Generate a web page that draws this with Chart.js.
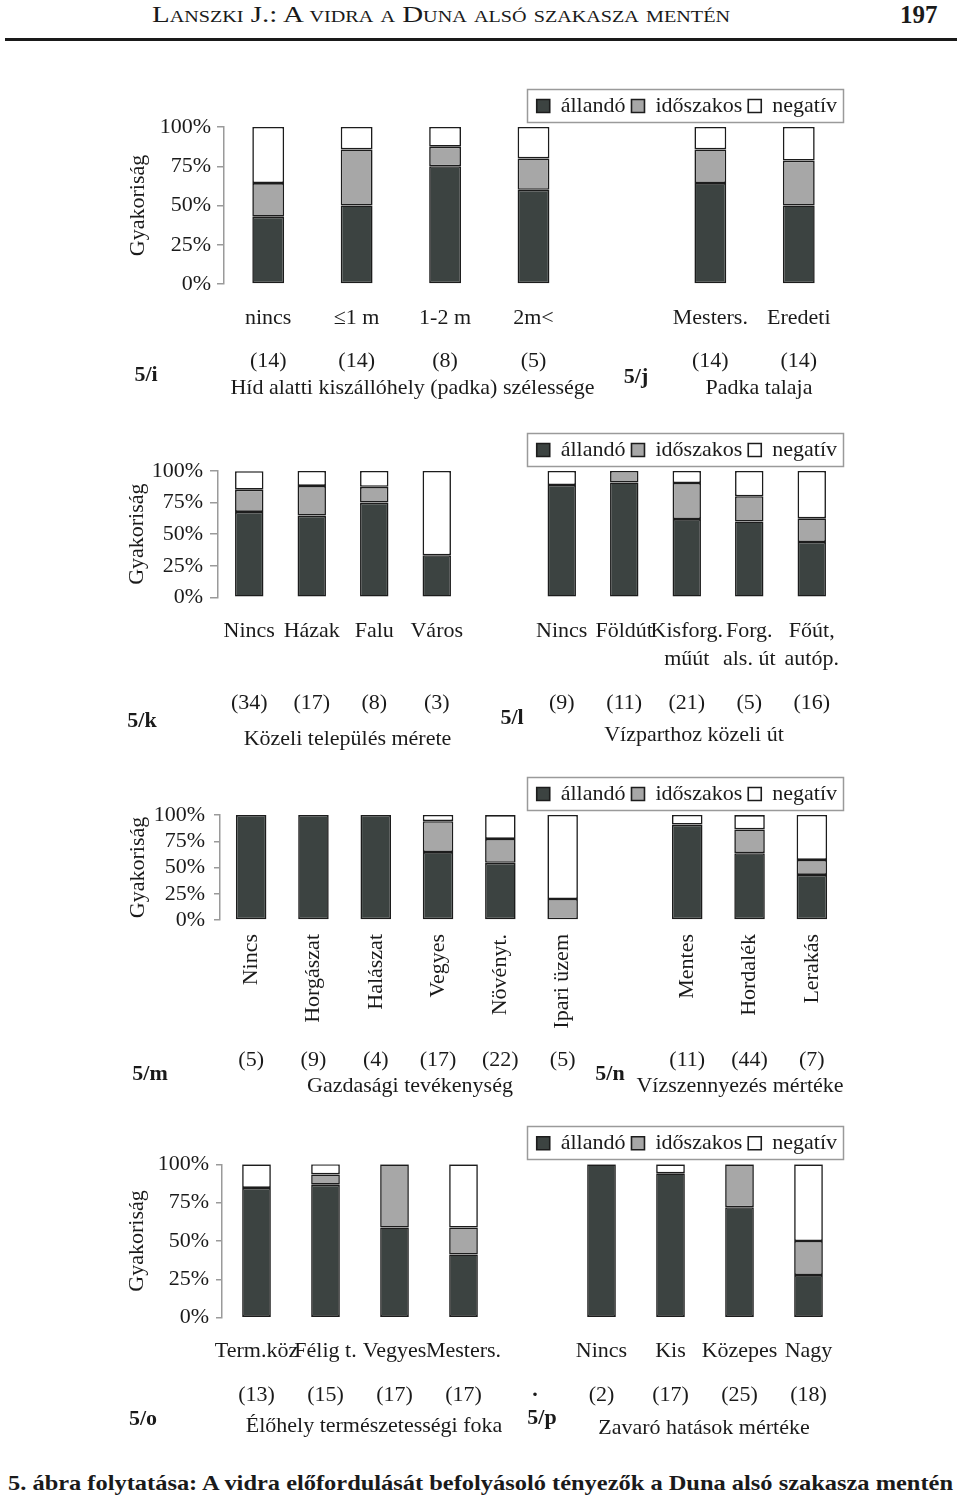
<!DOCTYPE html>
<html><head><meta charset="utf-8">
<script src="https://cdn.jsdelivr.net/npm/chart.js@4/dist/chart.umd.min.js"></script>
<style>
html,body{margin:0;padding:0;background:#fff;}
body{width:960px;height:1502px;position:relative;overflow:hidden;font-family:'Liberation Serif','Times New Roman',serif;color:#1a1a1a;}
canvas{position:absolute;left:0;}
#hdr{position:absolute;left:152px;top:1px;font-size:23px;font-variant:small-caps;line-height:28px;white-space:nowrap;transform-origin:0 0;}
#pg{position:absolute;left:900px;top:1px;font-size:25px;font-weight:bold;line-height:28px;}
#rule{position:absolute;left:5px;top:38px;width:952px;height:3px;background:#1a1a1a;}
#cap{position:absolute;left:8px;top:1470px;font-size:22px;font-weight:bold;line-height:26px;white-space:nowrap;transform-origin:0 0;}
</style></head><body>
<div id="hdr">Lanszki J.: A vidra a Duna alsó szakasza mentén</div>
<div id="pg">197</div>
<div id="rule"></div>
<canvas id="c1" width="960" height="325" style="top:80px"></canvas>
<canvas id="c2" width="960" height="335" style="top:425px"></canvas>
<canvas id="c3" width="960" height="335" style="top:770px"></canvas>
<canvas id="c4" width="960" height="330" style="top:1115px"></canvas>
<div id="cap">5. ábra folytatása: A vidra előfordulását befolyásoló tényezők a Duna alsó szakasza mentén</div>
<script>
// ---- DATA ----
const seriesNames = ['állandó', 'időszakos', 'negatív'];
const yTicks = [0, 25, 50, 75, 100];

const cats1 = ['nincs', '≤1 m', '1-2 m', '2m<', '', 'Mesters.', 'Eredeti'];
const allando1 = [42.9, 50.0, 75.0, 60.0, null, 64.3, 50.0];
const idoszakos1 = [21.4, 35.7, 12.5, 20.0, null, 21.4, 28.6];
const negativ1 = [35.7, 14.3, 12.5, 20.0, null, 14.3, 21.4];
const counts1 = ['(14)', '(14)', '(8)', '(5)', '', '(14)', '(14)'];

const cats2 = ['Nincs', 'Házak', 'Falu', 'Város', '', 'Nincs', 'Földút', ['Kisforg.', 'műút'], ['Forg.', 'als. út'], ['Főút,', 'autóp.']];
const allando2 = [67.6, 64.7, 75.0, 33.3, null, 88.9, 90.9, 61.9, 60.0, 43.8];
const idoszakos2 = [17.6, 23.5, 12.5, 0, null, 0, 9.1, 28.6, 20.0, 18.7];
const negativ2 = [14.7, 11.8, 12.5, 66.7, null, 11.1, 0, 9.5, 20.0, 37.5];
const counts2 = ['(34)', '(17)', '(8)', '(3)', '', '(9)', '(11)', '(21)', '(5)', '(16)'];

const cats3 = ['Nincs', 'Horgászat', 'Halászat', 'Vegyes', 'Növényt.', 'Ipari üzem', '', 'Mentes', 'Hordalék', 'Lerakás'];
const allando3 = [100, 100, 100, 64.7, 54.5, 0, null, 90.9, 63.6, 42.9];
const idoszakos3 = [0, 0, 0, 29.4, 22.7, 20.0, null, 0, 22.7, 14.3];
const negativ3 = [0, 0, 0, 5.9, 22.7, 80.0, null, 9.1, 13.6, 42.9];
const counts3 = ['(5)', '(9)', '(4)', '(17)', '(22)', '(5)', '', '(11)', '(44)', '(7)'];

const cats4 = ['Term.köz', 'Félig t.', 'Vegyes', 'Mesters.', '', 'Nincs', 'Kis', 'Közepes', 'Nagy'];
const allando4 = [84.6, 86.7, 58.8, 41.2, null, 100, 94.1, 72.0, 27.8];
const idoszakos4 = [0, 6.7, 41.2, 17.6, null, 0, 0, 28.0, 22.2];
const negativ4 = [15.4, 6.7, 0, 41.2, null, 0, 5.9, 0, 50.0];
const counts4 = ['(13)', '(15)', '(17)', '(17)', '', '(2)', '(17)', '(25)', '(18)'];

const subtitles1 = ['Híd alatti kiszállóhely (padka) szélessége', 'Padka talaja'];
const subtitles2 = ['Közeli település mérete', 'Vízparthoz közeli út'];
const subtitles3 = ['Gazdasági tevékenység', 'Vízszennyezés mértéke'];
const subtitles4 = ['Élőhely természetességi foka', 'Zavaró hatások mértéke'];
const panelLabels1 = ['5/i', '5/j'];
const panelLabels2 = ['5/k', '5/l'];
const panelLabels3 = ['5/m', '5/n'];
const panelLabels4 = ['5/o', '5/p'];

// ---- STYLE ----
const FONT = "'Liberation Serif', 'Times New Roman', serif";
const TXT = '#1a1a1a';
const COLS = ['#3c4341', '#a7a7a7', '#ffffff'];
const EDGE = '#1c1c1c';
const AXC = '#9a9a9a';
const LEG_PAD = 6;

const annot = {
  id: 'annot',
  afterDraw(chart, args, o) {
    const ctx = chart.ctx, xs = chart.scales.x;
    ctx.save();
    ctx.fillStyle = TXT;
    ctx.textAlign = 'center';
    ctx.textBaseline = 'middle';
    ctx.font = '22px ' + FONT;
    o.counts.forEach((c, i) => { if (c) ctx.fillText(c, xs.getPixelForValue(i), o.countsY - o.top); });
    o.subs.forEach(s => ctx.fillText(s.text, s.x, s.y - o.top));
    ctx.font = 'bold 22px ' + FONT;
    o.panels.forEach(s => ctx.fillText(s.text, s.x, s.y - o.top));
    const lg = chart.legend;
    if (lg && lg.legendHitBoxes && lg.legendHitBoxes.length) {
      let l = Infinity, r = -Infinity, t = Infinity, b = -Infinity;
      lg.legendHitBoxes.forEach(h => { l = Math.min(l, h.left); r = Math.max(r, h.left + h.width); t = Math.min(t, h.top); b = Math.max(b, h.top + h.height); });
      ctx.strokeStyle = AXC; ctx.lineWidth = 1.5;
      ctx.strokeRect(Math.round(l - 10) + 0.5, Math.round(t - 6) + 0.5, Math.round(r - l + 16), Math.round(b - t + 11));
    }
    ctx.restore();
  }
};

function makeRow(id, r) {
  const ds = [r.a, r.i, r.n].map((d, k) => ({
    label: seriesNames[k], data: d, backgroundColor: COLS[k], borderColor: EDGE,
    borderWidth: 1.6, borderSkipped: false, categoryPercentage: 1, barPercentage: r.bar
  }));
  const legendH = 22 + LEG_PAD + 10;
  new Chart(document.getElementById(id), {
    type: 'bar',
    data: { labels: r.cats, datasets: ds },
    plugins: [annot],
    options: {
      responsive: false, animation: false, devicePixelRatio: 1,
      layout: { padding: { top: r.chartTop - legendH, right: 117, bottom: 0, left: 0 } },
      plugins: {
        tooltip: { enabled: false },
        legend: {
          position: 'top', align: 'end',
          labels: { boxWidth: 13, boxHeight: 13, padding: LEG_PAD, color: TXT, font: { family: FONT, size: 22 } }
        },
        annot: { top: r.top, counts: r.counts, countsY: r.countsY, subs: r.subs, panels: r.panels }
      },
      scales: {
        x: {
          stacked: true, offset: true,
          grid: { display: false, drawTicks: false }, border: { display: false },
          ticks: { autoSkip: false, maxRotation: r.rot, minRotation: r.rot, padding: r.xPad, color: TXT,
                   font: { family: FONT, size: 22, lineHeight: 1.27 } },
          afterFit(s) { s.height = r.xH; }
        },
        y: {
          stacked: true, min: 0, max: 100,
          afterBuildTicks(s) { s.ticks = yTicks.map(v => ({ value: v })); },
          ticks: { autoSkip: false, callback: v => v + '%', padding: r.yPad, color: TXT, font: { family: FONT, size: 22 } },
          grid: { drawOnChartArea: false, drawTicks: true, tickLength: r.tl, color: AXC, lineWidth: 1.5 },
          border: { display: true, color: AXC, width: 1.5 },
          title: { display: true, text: 'Gyakoriság', color: TXT, font: { family: FONT, size: 22 }, padding: { top: r.titlePad, bottom: 0 } },
          afterFit(s) { s.width = r.left; }
        }
      }
    }
  });
}

makeRow('c1', { top: 80, cats: cats1, a: allando1, i: idoszakos1, n: negativ1, counts: counts1, bar: 0.36,
  chartTop: 47, xH: 121, left: 224, xPad: 19.8, rot: 0, yPad: 6, tl: 7, titlePad: 124.8, countsY: 361,
  subs: [{ text: subtitles1[0], x: 412.5, y: 388 }, { text: subtitles1[1], x: 759, y: 388 }],
  panels: [{ text: panelLabels1[0], x: 146, y: 375 }, { text: panelLabels1[1], x: 636, y: 377 }] });

makeRow('c2', { top: 425, cats: cats2, a: allando2, i: idoszakos2, n: negativ2, counts: counts2, bar: 0.455,
  chartTop: 46, xH: 162.7, left: 218, xPad: 19.7, rot: 0, yPad: 7, tl: 8, titlePad: 123.8, countsY: 703,
  subs: [{ text: subtitles2[0], x: 347.5, y: 739 }, { text: subtitles2[1], x: 694, y: 735 }],
  panels: [{ text: panelLabels2[0], x: 142, y: 721 }, { text: panelLabels2[1], x: 512, y: 718 }] });

makeRow('c3', { top: 770, cats: cats3, a: allando3, i: idoszakos3, n: negativ3, counts: counts3, bar: 0.49,
  chartTop: 45, xH: 185, left: 220, xPad: 14, rot: 90, yPad: 9, tl: 6, titlePad: 124.8, countsY: 1060,
  subs: [{ text: subtitles3[0], x: 410, y: 1086 }, { text: subtitles3[1], x: 740, y: 1086 }],
  panels: [{ text: panelLabels3[0], x: 150, y: 1074 }, { text: panelLabels3[1], x: 610, y: 1074 }] });

makeRow('c4', { top: 1115, cats: cats4, a: allando4, i: idoszakos4, n: negativ4, counts: counts4, bar: 0.416,
  chartTop: 49.3, xH: 127.3, left: 222, xPad: 20, rot: 0, yPad: 7, tl: 6, titlePad: 123.8, countsY: 1395,
  subs: [{ text: subtitles4[0], x: 374, y: 1426 }, { text: subtitles4[1], x: 704, y: 1428 }],
  panels: [{ text: panelLabels4[0], x: 143, y: 1419 }, { text: panelLabels4[1], x: 542, y: 1418 }, { text: '.', x: 535, y: 1390 }] });

// fit header/caption widths to the page
function fitW(id, w) { const el = document.getElementById(id); const cw = el.getBoundingClientRect().width; el.style.transform = 'scaleX(' + (w / cw) + ')'; }
fitW('hdr', 578);
fitW('cap', 945);
</script>
</body></html>
